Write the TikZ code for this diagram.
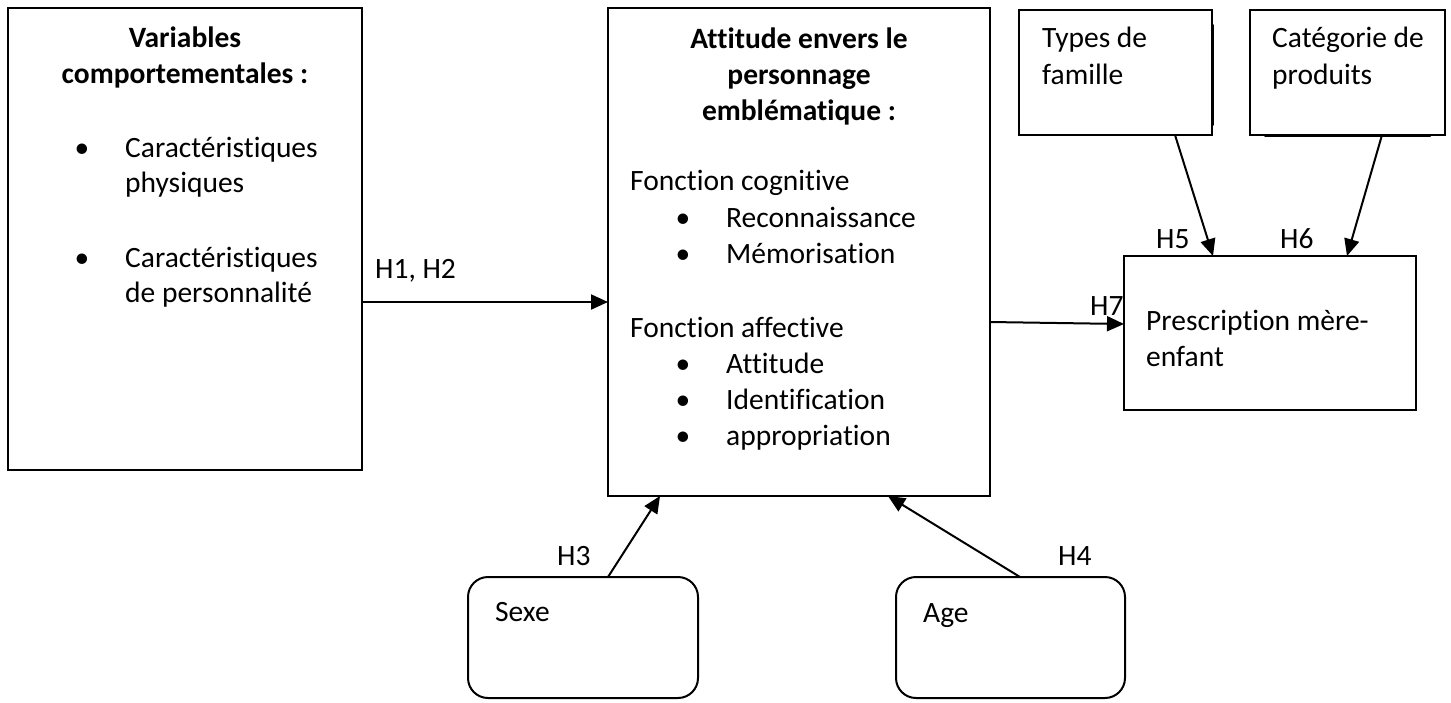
\documentclass[tikz,border=0pt]{standalone}
\usepackage{fontspec}
\setmainfont{Carlito}[Ligatures=NoCommon]
\usetikzlibrary{arrows.meta}
\begin{document}
\begin{tikzpicture}[x=1pt,y=-1pt,
  box/.style={draw, line width=2pt, inner sep=0pt, outer sep=0pt, anchor=north west},
  rbox/.style={box, rounded corners=20pt},
  txt/.style={inner sep=0pt, font=\fontsize{29.5}{35}\selectfont},
  hdr/.style={txt, font=\fontsize{29.5}{35}\selectfont\bfseries, anchor=base},
  lt/.style={txt, anchor=base west},
  bul/.style={txt, anchor=base},
  arr/.style={line width=2pt, -{Triangle[length=17pt,width=15pt]}}]
\useasboundingbox (0,0) rectangle (1451,702);
% boxes
\node[box, minimum width=354pt, minimum height=462pt] (vars) at (8,8) {};
\node[box, minimum width=382pt, minimum height=488pt] (att) at (608,8) {};
\node[box, minimum width=193pt, minimum height=125pt] (types) at (1019,10) {};
\node[box, minimum width=195pt, minimum height=125pt] (cat) at (1250,10) {};
\node[box, minimum width=292pt, minimum height=154pt] (presc) at (1124,256) {};
\node[rbox, minimum width=230pt, minimum height=121pt] (sexe) at (468,577) {};
\node[rbox, minimum width=229pt, minimum height=121pt] (age) at (896,577) {};
% shadow artefacts
\draw[line width=2pt, line cap=round] ([xshift=1pt,yshift=-15pt]types.north east) -- ([xshift=1pt,yshift=10pt]types.south east);
\draw[line width=2pt, line cap=round] ([xshift=15pt,yshift=-1pt]cat.south west) -- ([xshift=-15pt,yshift=-1pt]cat.south east);
% left box text
\node[hdr] (v1) at (185,47) {Variables};
\node[hdr] (v2) at (185,83) {comportementales :};
\node[bul] (vb1) at (82,157) {\textbullet};
\node[lt] (v3) at (125,157) {Caractéristiques};
\node[lt] (v4) at (125,192) {physiques};
\node[bul] (vb2) at (82,267) {\textbullet};
\node[lt] (v5) at (125,267) {Caractéristiques};
\node[lt] (v6) at (125,302) {de personnalité};
% middle box text
\node[hdr] (a1) at (799,48) {Attitude envers le};
\node[hdr] (a2) at (799,84) {personnage};
\node[hdr] (a3) at (799,120) {emblématique :};
\node[lt] (a4) at (630,190) {Fonction cognitive};
\node[bul] (ab1) at (683,227) {\textbullet};
\node[lt] (a5) at (726,227) {Reconnaissance};
\node[bul] (ab2) at (683,263) {\textbullet};
\node[lt] (a6) at (726,263) {Mémorisation};
\node[lt] (a7) at (630,337) {Fonction affective};
\node[bul] (ab3) at (683,373) {\textbullet};
\node[lt] (a8) at (726,373) {Attitude};
\node[bul] (ab4) at (683,409) {\textbullet};
\node[lt] (a9) at (726,409) {Identification};
\node[bul] (ab5) at (683,445) {\textbullet};
\node[lt] (a10) at (726,445) {appropriation};
% other texts
\node[lt] (t1) at (1042,47) {Types de};
\node[lt] (t2) at (1042,84) {famille};
\node[lt] (c1) at (1272,47) {Catégorie de};
\node[lt] (c2) at (1272,84) {produits};
\node[lt] (p1) at (1146,330) {Prescription mère-};
\node[lt] (p2) at (1146,366) {enfant};
\node[lt] (s1) at (495,621) {Sexe};
\node[lt] (g1) at (923,622) {Age};
% labels
\node[lt] (h12) at (375,278) {H1, H2};
\node[lt] (h7) at (1090,315) {H7};
\node[lt] (h5) at (1156,248) {H5};
\node[lt] (h6) at (1280,248) {H6};
\node[lt] (h3) at (557,565) {H3};
\node[lt] (h4) at (1058,565) {H4};
% connectors
\draw[arr] ([yshift=-294pt]vars.north east) -- ([yshift=-294pt]att.north west);
\draw[arr] ([yshift=-314pt]att.north east) -- ([yshift=-68pt]presc.north west);
\draw[arr] ([xshift=156pt]types.south west) -- ([xshift=89pt]presc.north west);
\draw[arr] ([xshift=132pt]cat.south west) -- ([xshift=223pt]presc.north west);
\draw[arr] ([xshift=140pt]sexe.north west) -- ([xshift=52pt]att.south west);
\draw[arr] ([xshift=124pt]age.north west) -- ([xshift=280pt]att.south west);
\end{tikzpicture}
\end{document}
